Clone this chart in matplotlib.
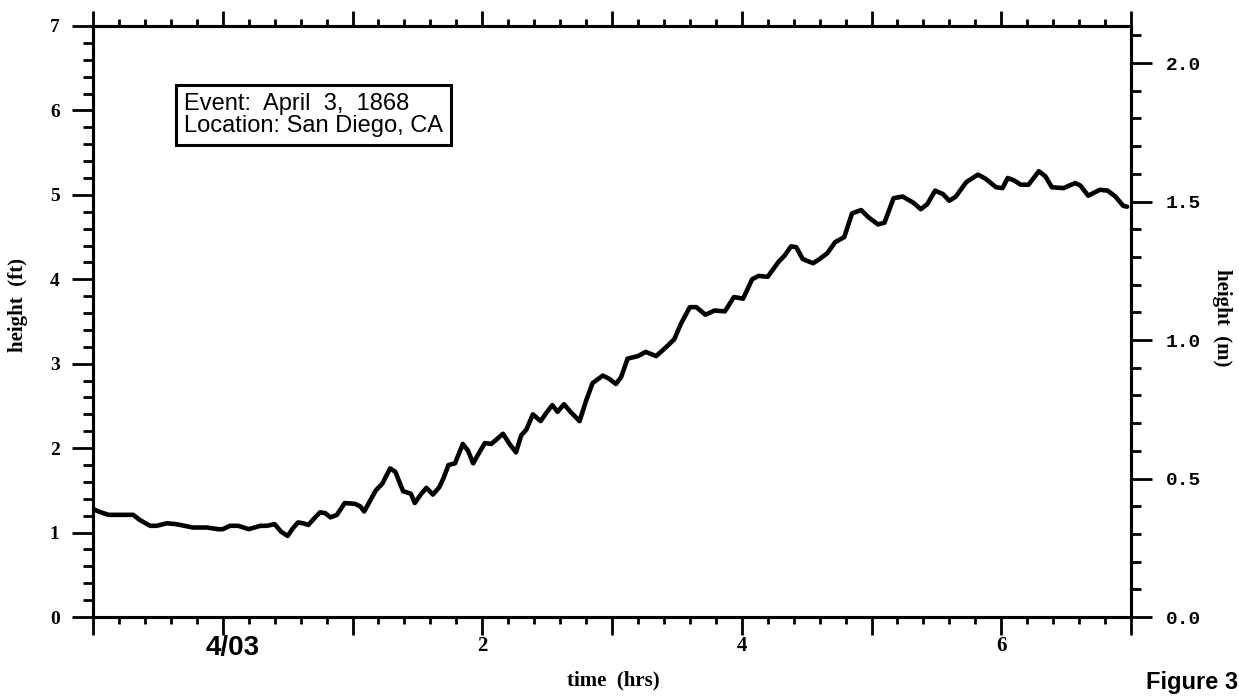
import numpy as np
import matplotlib
matplotlib.use('Agg')
import matplotlib.pyplot as plt
from matplotlib.ticker import FixedLocator, FixedFormatter, MultipleLocator

# water level record
t_hrs = [-1.00, -0.95, -0.88, -0.69, -0.64, -0.56, -0.51, -0.43, -0.36, -0.23,
         -0.12, -0.035, 0.00, 0.055, 0.12, 0.20, 0.29, 0.34, 0.40, 0.45,
         0.50, 0.54, 0.58, 0.62, 0.66, 0.70, 0.75, 0.79, 0.83, 0.88,
         0.94, 1.02, 1.06, 1.09, 1.13, 1.18, 1.23, 1.29, 1.33, 1.39,
         1.45, 1.48, 1.53, 1.57, 1.62, 1.67, 1.70, 1.74, 1.79, 1.85,
         1.89, 1.93, 1.97, 2.02, 2.07, 2.16, 2.21, 2.26, 2.30, 2.34,
         2.39, 2.45, 2.49, 2.54, 2.58, 2.63, 2.68, 2.75, 2.80, 2.85,
         2.93, 2.98, 3.03, 3.07, 3.12, 3.20, 3.26, 3.34, 3.42, 3.48,
         3.53, 3.60, 3.65, 3.72, 3.79, 3.87, 3.94, 4.01, 4.08, 4.13,
         4.20, 4.28, 4.33, 4.38, 4.42, 4.47, 4.55, 4.60, 4.66, 4.72,
         4.79, 4.85, 4.92, 4.98, 5.05, 5.10, 5.17, 5.24, 5.32, 5.38,
         5.43, 5.49, 5.55, 5.60, 5.65, 5.73, 5.82, 5.88, 5.96, 6.01,
         6.05, 6.10, 6.15, 6.21, 6.29, 6.34, 6.39, 6.48, 6.57, 6.61,
         6.67, 6.76, 6.82, 6.88, 6.94, 6.97]
h_ft = [1.28, 1.245, 1.21, 1.21, 1.15, 1.08, 1.08, 1.11, 1.10, 1.06,
        1.06, 1.04, 1.04, 1.08, 1.08, 1.04, 1.08, 1.08, 1.10, 1.01,
        0.96, 1.05, 1.12, 1.11, 1.09, 1.16, 1.24, 1.23, 1.18, 1.21,
        1.35, 1.34, 1.31, 1.25, 1.36, 1.50, 1.58, 1.76, 1.72, 1.49,
        1.46, 1.35, 1.46, 1.53, 1.45, 1.54, 1.64, 1.80, 1.82, 2.05,
        1.97, 1.82, 1.93, 2.06, 2.05, 2.17, 2.05, 1.95, 2.15, 2.22,
        2.40, 2.32, 2.41, 2.51, 2.43, 2.52, 2.43, 2.32, 2.56, 2.77,
        2.86, 2.82, 2.76, 2.84, 3.06, 3.09, 3.14, 3.09, 3.20, 3.29,
        3.47, 3.67, 3.67, 3.58, 3.63, 3.62, 3.79, 3.77, 4.00, 4.04,
        4.03, 4.20, 4.28, 4.39, 4.38, 4.24, 4.19, 4.24, 4.31, 4.44,
        4.50, 4.78, 4.82, 4.73, 4.65, 4.67, 4.96, 4.98, 4.91, 4.83,
        4.89, 5.05, 5.01, 4.93, 4.98, 5.15, 5.24, 5.19, 5.09, 5.08,
        5.20, 5.17, 5.12, 5.12, 5.28, 5.22, 5.09, 5.08, 5.14, 5.11,
        4.99, 5.06, 5.05, 4.98, 4.87, 4.86]

x_ticks = [-1, 0, 1, 2, 3, 4, 5, 6, 7]
x_labels = ['', '', '', '2', '', '4', '', '6', '']
date_label = '4/03'   # drawn under the 0 h tick
ft_ticks = [0, 1, 2, 3, 4, 5, 6, 7]
m_ticks = [0.0, 0.5, 1.0, 1.5, 2.0]
m_labels = ['0.0', '0.5', '1.0', '1.5', '2.0']
FT_TO_M = 0.3048

W, H = 1239, 700
fig = plt.figure(figsize=(W / 100, H / 100), dpi=100)
ax = fig.add_axes([93 / W, 1 - 617 / H, (1131 - 93) / W, (617 - 26) / H])

ax.plot(t_hrs, h_ft, color='black', lw=3.3,
        solid_joinstyle='round', solid_capstyle='round')
ax.set_xlim(-1, 7)
ax.set_ylim(0, 7)

for s in ax.spines.values():
    s.set_linewidth(2.2)

serif_bold = dict(family='Liberation Serif', weight='bold', size=14)

# x axis
ax.xaxis.set_major_locator(FixedLocator(x_ticks))
ax.xaxis.set_major_formatter(FixedFormatter(x_labels))
ax.xaxis.set_minor_locator(MultipleLocator(0.2))
ax.tick_params(axis='x', which='major', direction='out', length=8, width=2,
               top=True, bottom=True, pad=6)
ax.tick_params(axis='x', which='minor', direction='out', length=5, width=2,
               top=True, bottom=True)

# left y axis (ft)
ax.yaxis.set_major_locator(FixedLocator(ft_ticks))
ax.yaxis.set_minor_locator(MultipleLocator(0.2))
ax.tick_params(axis='y', which='major', direction='out', length=15, width=2,
               left=True, right=False, pad=9)
ax.tick_params(axis='y', which='minor', direction='out', length=7, width=2,
               left=True, right=False)

# right y axis (m)
ax2 = ax.twinx()
ax2.set_ylim(0, 7 * FT_TO_M)
ax2.yaxis.set_major_locator(FixedLocator(m_ticks))
ax2.yaxis.set_major_formatter(FixedFormatter(m_labels))
ax2.yaxis.set_minor_locator(MultipleLocator(0.1))
ax2.tick_params(axis='y', which='major', direction='out', length=15, width=2, pad=10)
ax2.tick_params(axis='y', which='minor', direction='out', length=7, width=2)
for s in ax2.spines.values():
    s.set_linewidth(2.2)

# longer ticks on the even hours
for tk in ax.xaxis.get_major_ticks():
    if tk.get_loc() in (0, 2, 4, 6):
        tk.tick1line.set_markersize(13)
        tk.tick2line.set_markersize(11)
for lab in ax.get_xticklabels():
    lab.set_fontproperties(serif_bold)
    lab.set_fontsize(15)
for lab in ax.get_yticklabels():
    lab.set_fontproperties(serif_bold)
for lab in ax2.get_yticklabels():
    lab.set_family('Liberation Mono')
    lab.set_weight('bold')
    lab.set_size(14)

ax.annotate(date_label, xy=(0, 0), xycoords=('data', 'axes fraction'),
            xytext=(10, -31), textcoords='offset pixels',
            ha='center', va='center', family='Liberation Sans',
            weight='bold', size=20, annotation_clip=False)

# axis titles
title_font = dict(family='Liberation Serif', weight='bold', size=15)
fig.text(613 / W, 1 - 680 / H, 'time  (hrs)', ha='center', va='center',
         **title_font)
fig.text(18 / W, 1 - 305 / H, 'height  (ft)', ha='center', va='center',
         rotation=90, **title_font)
fig.text(1222 / W, 1 - 318 / H, 'height  (m)', ha='center', va='center',
         rotation=-90, **title_font)

# event box
fig.text(184 / W, 1 - 93 / H, 'Event:  April  3,  1868\nLocation: San Diego, CA',
         ha='left', va='top', family='Liberation Sans', size=17,
         linespacing=1.0,
         bbox=dict(boxstyle='square,pad=0.33', fc='white', ec='black', lw=2.2))

fig.text(1238 / W, 1 - 683 / H, 'Figure 3', ha='right', va='center',
         family='Liberation Sans', weight='bold', size=17)

fig.savefig('out.png', dpi=100)
